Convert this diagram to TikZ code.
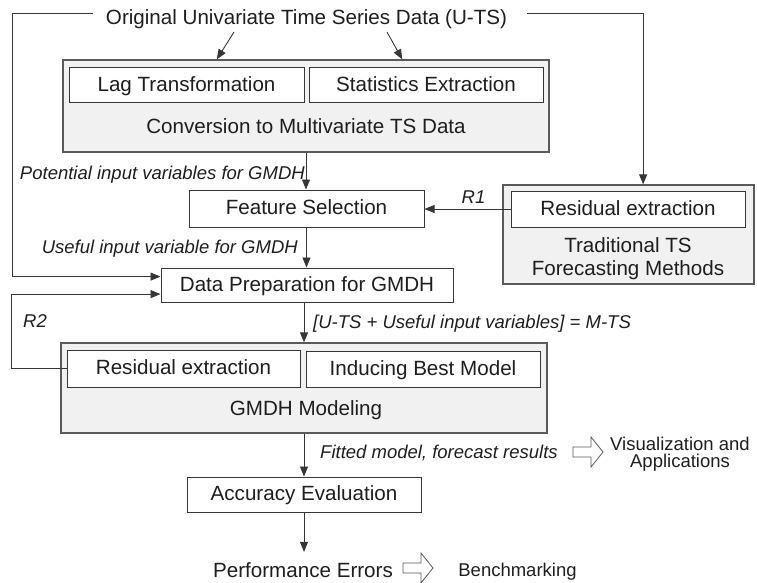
\documentclass[tikz,border=0pt]{standalone}
\usepackage{fontspec}
\setmainfont{Liberation Sans}
\usetikzlibrary{arrows.meta,calc}

\definecolor{ink}{HTML}{1E1E1E}
\definecolor{edge}{HTML}{363636}
\definecolor{paneledge}{HTML}{5A5A5A}
\definecolor{panelfill}{HTML}{F0F1F0}

\newcommand{\diagfont}{\fontsize{20.6pt}{22.5pt}\selectfont}
\newcommand{\notefont}{\fontsize{18.5pt}{20pt}\selectfont}

\tikzset{
  lbl/.style={font=\diagfont, text=ink, inner sep=0pt},
  note/.style={font=\notefont\itshape, text=ink, inner sep=0pt},
  plain/.style={font=\notefont, text=ink, inner sep=0pt},
  box/.style={draw=edge, line width=1pt, fill=white, inner sep=0pt,
              font=\diagfont, text=ink, text height=16.4pt, text depth=4.3pt},
  panel/.style={draw=paneledge, line width=1.3pt, fill=panelfill, inner sep=0pt},
  conn/.style={draw=edge, line width=0.9pt},
  arr/.style={conn, -{Triangle[length=10pt,width=8pt]}},
  hollow/.style={draw=paneledge, line width=0.8pt, fill=white, line join=miter},
}

\begin{document}
\begin{tikzpicture}[x=1pt,y=-1pt]
\useasboundingbox (0,0) rectangle (757,583);

% source data
\node[lbl, anchor=base] (title) at (306.5,25) {Original Univariate Time Series Data (U-TS)};

% conversion block
\node[panel, minimum width=486pt, minimum height=92pt] (conv) at (306,106) {};
\node[box, minimum width=235pt, minimum height=35pt] (lag) at (186.5,85.5) {Lag Transformation};
\node[box, minimum width=234pt, minimum height=35pt] (stat) at (426,85.5) {Statistics Extraction};
\node[lbl, anchor=base] (convtxt) at (306,133) {Conversion to Multivariate TS Data};

% feature selection
\node[box, minimum width=235pt, minimum height=37pt] (feat) at (306.5,208.5) {Feature Selection};

% traditional methods block
\node[panel, minimum width=251pt, minimum height=99pt] (trad) at (628.5,234.5) {};
\node[box, minimum width=234pt, minimum height=36pt] (tres) at (628,209) {Residual extraction};
\node[lbl, anchor=base] (tradtxt) at (628,252.7) {Traditional TS};
\node[lbl, anchor=base] (tradtxtb) at (628,275) {Forecasting Methods};

% data preparation
\node[box, minimum width=292pt, minimum height=34pt] (prep) at (307,285) {Data Preparation for GMDH};

% GMDH block
\node[panel, minimum width=486pt, minimum height=90pt] (gmdh) at (304,388) {};
\node[box, minimum width=233pt, minimum height=37pt] (gres) at (183.5,368.5) {Residual extraction};
\node[box, minimum width=234pt, minimum height=36pt] (ind) at (423,369) {Inducing Best Model};
\node[lbl, anchor=base] (gmdhtxt) at (306,415) {GMDH Modeling};

% evaluation
\node[box, minimum width=234pt, minimum height=35pt] (acc) at (304,494.5) {Accuracy Evaluation};
\node[lbl, anchor=base] (perf) at (303,577) {Performance Errors};
\node[plain, anchor=base] (bench) at (517.5,576.7) {Benchmarking};
\node[plain, anchor=base] (vis) at (680,450.7) {Visualization and};
\node[plain, anchor=base] (visb) at (680,467.5) {Applications};

% edge labels
\node[note, anchor=base east] (pot) at (305,179) {Potential input variables for GMDH};
\node[note, anchor=base east] (use) at (298,253.3) {Useful input variable for GMDH};
\node[note, anchor=base west] (mts) at (313,328) {[U-TS + Useful input variables] = M-TS};
\node[note, anchor=base west] (fit) at (320,458) {Fitted model, forecast results};
\node[note, anchor=base] (r1) at (473.5,203) {R1};
\node[note, anchor=base] (r2) at (35,327) {R2};

% free ends near the title
\coordinate (tl) at (93,13);
\coordinate (tr) at (527,13);
\coordinate (s1) at (234,32);
\coordinate (s2) at (387,32);

% connectors
\draw[arr] (s1) -- ($(conv.north west)!0.317!(conv.north east)$);
\draw[arr] (s2) -- ($(conv.north west)!0.6975!(conv.north east)$);
\draw[arr] (tl) -- (12,13) |- ($(prep.north west)!0.26!(prep.south west)$);
\draw[arr] (tr) -| ($(trad.north west)!0.558!(trad.north east)$);
\draw[arr] (conv.south) -- (conv.south |- feat.north);
\draw[arr] (tres.west) -- (feat.east |- tres.west);
\draw[arr] (feat.south) -- (feat.south |- prep.north);
\draw[arr] (gmdh.north |- prep.south) -- (gmdh.north);
\draw[arr] (gres.west) -- ++(-55,0) |- ($(prep.north west)!0.76!(prep.south west)$);
\draw[arr] (gmdh.south) -- (acc.north);
\draw[arr] (acc.south) -- ($(acc.south |- perf.north)+(0,-10)$);

% hollow block arrows
\coordinate (h1) at (403,568);
\coordinate (h2) at (573,452);
\draw[hollow] (h1) ++(0,-5) -- ++(18,0) -- ++(0,-10) -- ++(12,15) -- ++(-12,15)
  -- ++(0,-10) -- ++(-18,0) -- cycle;
\draw[hollow] (h2) ++(0,-5) -- ++(18,0) -- ++(0,-10) -- ++(12,15) -- ++(-12,15)
  -- ++(0,-10) -- ++(-18,0) -- cycle;
\end{tikzpicture}
\end{document}
